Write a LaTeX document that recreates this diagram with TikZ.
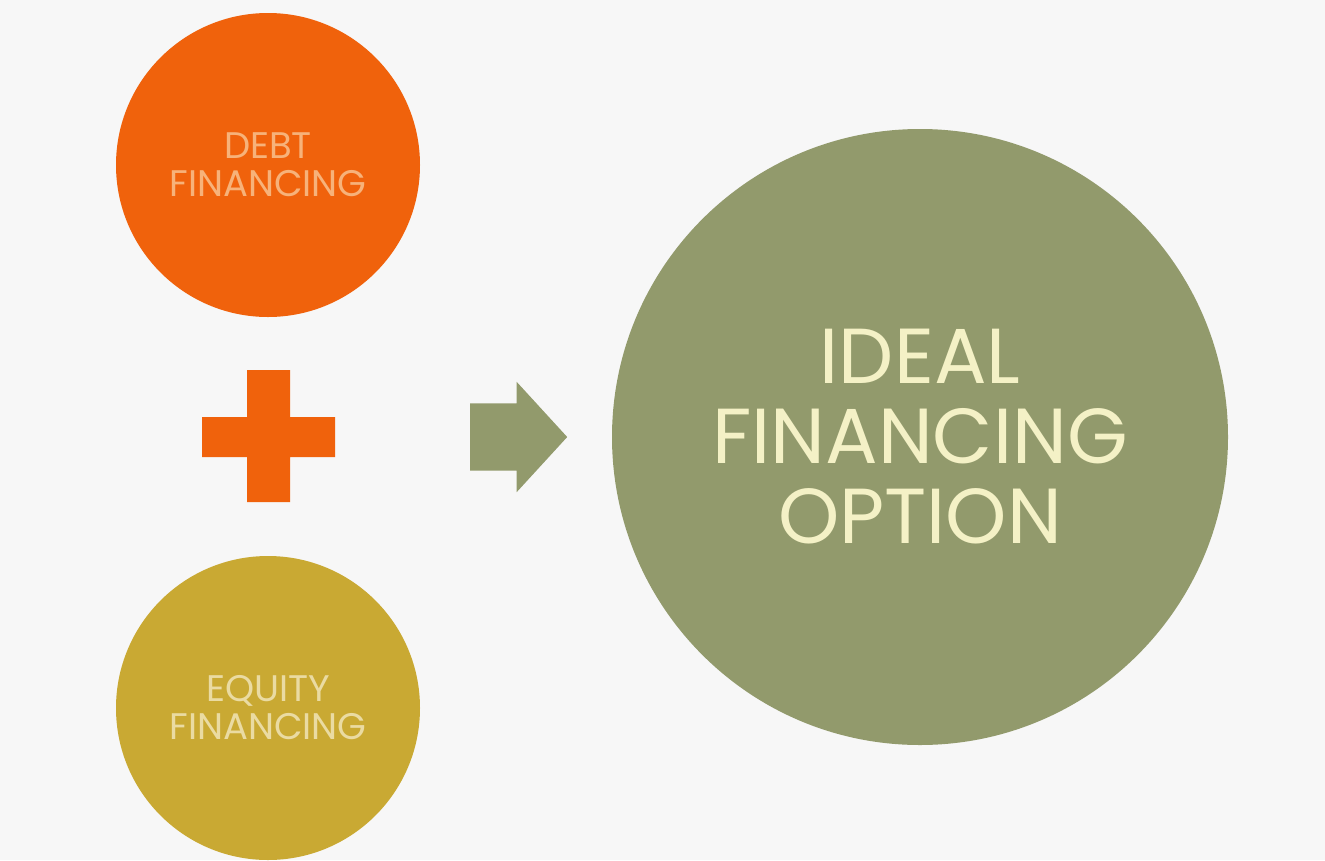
\documentclass[tikz,border=0pt]{standalone}
\usepackage{fontspec}
\usepackage{tikz}
\usetikzlibrary{shapes.arrows}
\newfontfamily\gothic{Poppins}
\definecolor{debtorange}{HTML}{F0620C}
\definecolor{debttext}{HTML}{F7B27A}
\definecolor{equitygold}{HTML}{C9A933}
\definecolor{equitytext}{HTML}{EADBA2}
\definecolor{idealolive}{HTML}{929A6C}
\definecolor{idealtext}{HTML}{F4F1C6}
\definecolor{paper}{HTML}{F7F7F7}

\begin{document}
\begin{tikzpicture}[x=1pt, y=-1pt]
        \fill[paper] (0,0) rectangle (1325,860);
        \useasboundingbox (0,0) rectangle (1325,860);
        \begin{scope}
          \clip (0,0) rectangle (1325,860);
          {\tikzstyle{every node}=[circle, inner sep=0pt, align=center]
            \node[fill=debtorange, text=debttext, minimum size=304pt,
              font=\gothic\fontsize{37}{38}\selectfont] (debt) at (268,165)
              {DEBT\\FINANCING};
            \node[fill=equitygold, text=equitytext, minimum size=304pt,
              font=\gothic\fontsize{37}{38}\selectfont] (equity) at (268,708)
              {EQUITY\\FINANCING};
            \node[fill=idealolive, text=idealtext, minimum size=616pt,
              font=\gothic\fontsize{78}{80}\selectfont] (ideal) at (920,437)
              {IDEAL\\FINANCING\\OPTION};
          }
        \end{scope}

        \fill[debtorange]
          (202,417) rectangle (335,457)
          (247,370) rectangle (290,502);
        \coordinate (plus) at (268,437);

        \node[single arrow, fill=idealolive, anchor=tail, inner sep=0pt, inner ysep=33.5pt,
          minimum height=97pt, single arrow head extend=21.5pt, single arrow tip angle=95]
          (arrow) at (470,437) {};
      \end{tikzpicture}
\end{document}
